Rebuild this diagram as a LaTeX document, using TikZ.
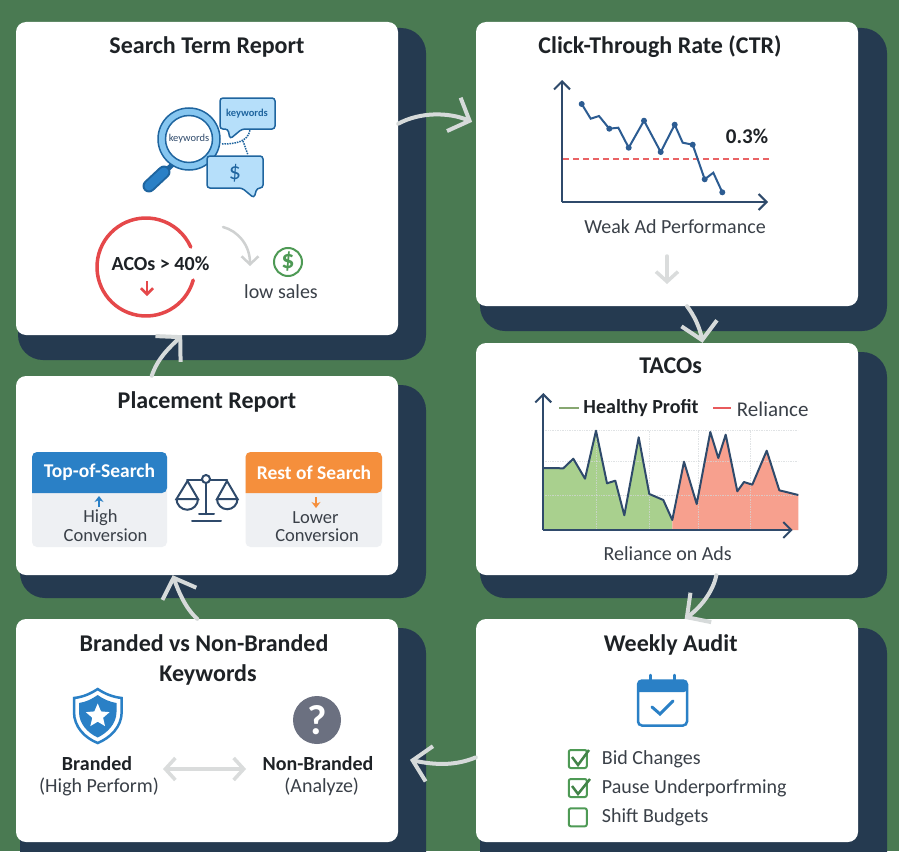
\documentclass[tikz,border=0pt]{standalone}
\usepackage{fontspec}
\setmainfont{Carlito}
\usetikzlibrary{arrows.meta,shapes.geometric}
\definecolor{bggreen}{HTML}{4A7A52}
\definecolor{navy}{HTML}{253A50}
\definecolor{flowgrey}{HTML}{D6DADA}
\definecolor{softgrey}{HTML}{DADCDC}
\definecolor{ink}{HTML}{1E2226}
\definecolor{bodytext}{HTML}{3A4048}
\definecolor{axisblue}{HTML}{2F4A6B}
\definecolor{lineblue}{HTML}{2C5C92}
\definecolor{iconblue}{HTML}{2A80C6}
\definecolor{darkblue}{HTML}{1F659F}
\definecolor{paleblue}{HTML}{B6DFFA}
\definecolor{ringblue}{HTML}{86C6F0}
\definecolor{redmark}{HTML}{E5484A}
\definecolor{greenmark}{HTML}{4E9A55}
\definecolor{orangebar}{HTML}{F58F3C}
\definecolor{panelgrey}{HTML}{EEF0F3}
\definecolor{areagreen}{HTML}{A9D08E}
\definecolor{areared}{HTML}{F7A08E}
\definecolor{gridgrey}{HTML}{D4D8DA}
\definecolor{querygrey}{HTML}{6B7080}
\tikzset{
    card/.style={fill=white, rounded corners=10pt, inner sep=0pt, minimum width=382pt},
    backing/.style={fill=navy, rounded corners=25pt},
    heading/.style={font=\fontsize{24}{30}\selectfont\bfseries, text=ink, inner sep=0pt, align=center},
    body/.style={font=\fontsize{20}{24}\selectfont, text=bodytext, inner sep=0pt, align=center},
    strong/.style={font=\fontsize{20}{24}\selectfont\bfseries, text=ink, inner sep=0pt, align=center},
    flow/.style={draw=flowgrey, line width=4pt, line cap=round, -{Straight Barb[length=17pt,width=36pt]}},
    minor/.style={draw=softgrey, line width=3.5pt, line cap=round, -{Straight Barb[length=10pt,width=22pt]}},
    axis/.style={draw=axisblue, line width=2pt, -{Straight Barb[length=8pt,width=16pt]}},
    bubble/.style={draw=darkblue, fill=paleblue, line width=1.5pt, rounded corners=3pt},
    dot/.style={circle, fill=lineblue, minimum size=6pt, inner sep=0pt},
    tick/.style={draw=greenmark, line width=2pt, rounded corners=2pt},
    panel/.style={font=\fontsize{18.5}{20}\selectfont, text=bodytext, inner sep=0pt},
}
\begin{document}
\begin{tikzpicture}[x=1pt, y=-1pt]
    \useasboundingbox (0,0) rectangle (899,851);
    \fill[bggreen] (0,0) rectangle (899,851);
    \clip (0,0) rectangle (899,851);

    \begin{scope}
        \path[backing] (18,28) rectangle (426,360);
        \path[backing] (480,28) rectangle (887,331);
        \path[backing] (480,352) rectangle (887,598);
        \path[backing] (20,385) rectangle (426,598);
        \path[backing] (20,628) rectangle (426,880);
        \path[backing] (480,628) rectangle (887,880);
    \end{scope}

    \begin{scope}[every node/.style={card}]
        \node[minimum height=313pt] (search) at (207,178.5) {};
        \node[minimum height=284pt] (ctr) at (667,164) {};
        \node[minimum height=232pt] (tacos) at (667,459) {};
        \node[minimum height=199pt] (placement) at (207,475.5) {};
        \node[minimum height=223pt] (branded) at (207,730.5) {};
        \node[minimum height=223pt] (audit) at (667,730.5) {};
    \end{scope}

    \draw[flow, shorten >=4pt] (search.16) .. controls (420,112) and (448,112) .. (ctr.168);
    \draw[flow] (ctr.-82) .. controls (694,315) and (700,328) .. (tacos.73);
    \draw[flow] (tacos.-67.5) .. controls (713,592) and (700,608) .. (audit.81);
    \draw[flow, shorten >=12pt] (audit.-172) .. controls (455,766) and (435,765) .. (branded.-8);
    \draw[flow] (branded.95) .. controls (185,608) and (178,590) .. (placement.-109);
    \draw[flow] (placement.119) .. controls (158,358) and (168,349) .. (search.-99);

    \begin{scope}[every node/.style={heading}]
        \node (searchtitle) at (207,46.5) {Search Term Report};
        \node (ctrtitle) at (660,46.5) {Click-Through Rate (CTR)};
        \node (tacostitle) at (670.7,366) {TACOs};
        \node (placementtitle) at (207,401.5) {Placement Report};
        \node (brandedtitle) at (204,659.5) {Branded vs Non-Branded\\\hspace*{8pt}Keywords};
        \node (audittitle) at (670.7,644.5) {Weekly Audit};
    \end{scope}

    \draw[line width=5pt, draw=darkblue, line cap=round] (160,176) -- (172,165);
    \draw[line width=13pt, draw=darkblue, line cap=round] (149,186) -- (164,172);
    \draw[line width=9pt, draw=iconblue, line cap=round] (149,186) -- (164,172);
    \filldraw[draw=darkblue, fill=ringblue, line width=1.5pt] (189,139) circle (31);
    \filldraw[draw=darkblue, fill=white, line width=1.5pt] (189,139) circle (23.5);
    \draw[bubble] (220,98) -- (275,98) -- (275,129) -- (242,129) -- (230,139) -- (228,129) -- (220,129) -- cycle;
    \draw[bubble] (207,156) -- (263,156) -- (263,188) -- (257,188) -- (254,198) -- (242,188) -- (207,188) -- cycle;
    \draw[darkblue, line width=1.5pt, densely dotted] (222,144) .. controls (235,144) and (248,142) .. (250,130);
    \draw[darkblue, line width=1.5pt, densely dotted] (243,141) -- (248,155);
    \node[font=\fontsize{10.5}{12}\selectfont, text=axisblue, inner sep=0pt] (lenstext) at (189,139) {keywords};
    \node[font=\fontsize{10.5}{12}\selectfont\bfseries, text=darkblue, inner sep=0pt] (bubbletext) at (247,114) {keywords};
    \node[font=\fontsize{24}{26}\selectfont, text=darkblue, inner sep=0pt] (bubbledollar) at (235,173) {\$};

    \draw[redmark, line width=3.5pt, line cap=round] (146,267) ++(15.5:49) arc[start angle=15.5, end angle=336, radius=49];
    \node[strong] (acos) at (160.5,264) {ACOs > 40\%};
    \draw[redmark, line width=2.5pt, -{Straight Barb[length=6pt,width=12pt]}] (147,281) -- (147,296);
    \draw[softgrey!95!black, line width=2.5pt, line cap=round, -{Straight Barb[length=8pt,width=17pt]}] (223,227) .. controls (238,231) and (250,245) .. (250,266);
    \node[circle, draw=greenmark, line width=2pt, minimum size=28pt, inner sep=0pt, text=greenmark, font=\fontsize{26}{28}\selectfont\bfseries] (lowdollar) at (288,262) {\$};
    \node[body] (lowsales) at (281,292) {low sales};

    \coordinate (ctrorigin) at (562,202);
    \coordinate (ctrtop) at (562,80);
    \coordinate (ctrright) at (768,202);
    \draw[axis] (ctrorigin) -- (ctrtop);
    \draw[axis] (ctrorigin) -- (ctrright);
    \draw[redmark!85, line width=1.3pt, dash pattern=on 6pt off 4pt] (563,159) -- (772,159);
    \draw[lineblue, line width=2pt] (581.7,104) -- (590.7,118.7) -- (599,116) -- (609.3,128.7) -- (618.3,127.7) -- (628.7,147.7) -- (644,120.7) -- (660.7,152) -- (674.7,124.7) -- (682.7,142.7) -- (692.7,144.7) -- (704.7,179.3) -- (713.3,172.7) -- (722.3,192.3);
    \begin{scope}[every node/.style={dot}]
        \node (p1) at (581.7,104) {};
        \node (p2) at (609.3,128.7) {};
        \node (p3) at (628.7,147.7) {};
        \node (p4) at (644,120.7) {};
        \node (p5) at (660.7,152) {};
        \node (p6) at (674.7,124.7) {};
        \node (p7) at (692.7,144.7) {};
        \node (p8) at (704.7,179.3) {};
        \node (p9) at (722.3,192.3) {};
    \end{scope}
    \node[strong, font=\fontsize{21}{24}\selectfont\bfseries] (ctrvalue) at (747,136) {0.3\%};
    \node[body] (ctrcaption) at (675,227) {Weak Ad Performance};
    \coordinate (ctrdowntop) at (667,256);
    \coordinate (ctrdownend) at (667,284);
    \draw[minor] (ctrdowntop) -- (ctrdownend);

    \fill[areagreen] (544,530) -- (544,468) -- (563.3,468.3) -- (573.3,458.7) -- (585,478.7) -- (596,430.7) -- (607,483.3) -- (615.3,480.7) -- (624.3,515.3) -- (638.7,437.3) -- (649.3,494) -- (663.3,500) -- (672.3,520) -- (672.3,530) -- cycle;
    \fill[areared] (672.3,530) -- (672.3,520) -- (684,461.7) -- (696.7,504) -- (710.3,432) -- (718.3,458) -- (725.7,434.7) -- (737.3,491.3) -- (744,482) -- (752.3,484.7) -- (766.7,450.7) -- (779.3,490.3) -- (798.3,495) -- (798.3,530) -- cycle;
    \begin{scope}[draw=gridgrey, densely dotted, line width=0.7pt, opacity=0.7]
        \draw (543,430.7) -- (798,430.7);
        \draw (543,461.7) -- (798,461.7);
        \draw (543,495) -- (798,495);
        \draw (596.7,430.7) -- (596.7,530);
        \draw (649,430.7) -- (649,530);
        \draw (698.3,430.7) -- (698.3,530);
        \draw (750,430.7) -- (750,530);
    \end{scope}
    \draw[axisblue, line width=2pt, line join=round] (544,468) -- (563.3,468.3) -- (573.3,458.7) -- (585,478.7) -- (596,430.7) -- (607,483.3) -- (615.3,480.7) -- (624.3,515.3) -- (638.7,437.3) -- (649.3,494) -- (663.3,500) -- (672.3,520) -- (684,461.7) -- (696.7,504) -- (710.3,432) -- (718.3,458) -- (725.7,434.7) -- (737.3,491.3) -- (744,482) -- (752.3,484.7) -- (766.7,450.7) -- (779.3,490.3) -- (798.3,495);
    \coordinate (tacosorigin) at (543.3,530);
    \coordinate (tacostop) at (543.3,393);
    \coordinate (tacosright) at (792.7,530);
    \draw[axis] (tacosorigin) -- (tacostop);
    \draw[axis] (tacosorigin) -- (tacosright);
    \draw[areagreen!80!black, line width=2pt] (559,407.7) -- (579,407.7);
    \draw[redmark!90, line width=2pt] (713,408) -- (731,408);
    \node[strong] (healthy) at (641,408) {Healthy Profit};
    \node[body, font=\fontsize{21}{24}\selectfont] (reliance) at (772.7,409) {Reliance};
    \node[body] (tacoscaption) at (667.7,553.7) {Reliance on Ads};

    \fill[panelgrey, rounded corners=5pt] (32,452) rectangle (167,547);
    \fill[panelgrey, rounded corners=5pt] (245.5,452) rectangle (382,547);
    \fill[iconblue, rounded corners=5pt] (32,493) -- (32,452) -- (167,452) -- (167,493) [sharp corners] -- cycle;
    \fill[orangebar, rounded corners=5pt] (245.5,493) -- (245.5,452) -- (382,452) -- (382,493) [sharp corners] -- cycle;
    \begin{scope}[every node/.style={strong, text=white, font=\fontsize{19.5}{24}\selectfont\bfseries}]
        \node (toplabel) at (99.5,472.5) {Top-of-Search};
        \node (restlabel) at (314,472.5) {Rest of Search};
    \end{scope}
    \begin{scope}[every node/.style={panel}]
        \node (highlabel) at (100.5,518) {High};
        \node (highsub) at (105.5,535.5) {Conversion};
        \node (lowerlabel) at (315.5,518) {Lower};
        \node (lowersub) at (317,535.5) {Conversion};
    \end{scope}
    \draw[iconblue, line width=2.5pt, -{Stealth[length=6pt,width=9pt]}] (99,507) -- (99,496);
    \draw[orangebar, line width=2.5pt, -{Stealth[length=6pt,width=9pt]}] (316,497) -- (316,508);

    \begin{scope}[draw=axisblue, line width=2pt, line cap=round]
        \draw (206,476) -- (206,514);
        \draw (199,514) -- (214,514);
        \draw (192,520.5) -- (221,520.5);
        \draw (187,480) -- (227,480);
        \draw (187.5,481) -- (176.5,499) -- (198,499) -- cycle;
        \draw (176.5,499) arc[start angle=180, end angle=0, radius=10.75];
        \draw (227,481) -- (217,499) -- (237.5,499) -- cycle;
        \draw (217,499) arc[start angle=180, end angle=0, radius=10.25];
        \filldraw[fill=white] (206,479) circle (4);
    \end{scope}

    \filldraw[fill=white, draw=iconblue, line width=2.5pt] (97.7,689) .. controls (105,694) and (113,697) .. (121.7,698) -- (121.7,712) .. controls (121.7,727) and (110,738) .. (97.7,743) .. controls (85,738) and (74,727) .. (74,712) -- (74,698) .. controls (83,697) and (90,694) .. (97.7,689) -- cycle;
    \fill[iconblue] (97.7,695) .. controls (103,699) and (110,702) .. (116.5,703) -- (116.5,712) .. controls (116.5,724) and (107,733) .. (97.7,737.5) .. controls (88,733) and (79,724) .. (79,712) -- (79,703) .. controls (86,702) and (92,699) .. (97.7,695) -- cycle;
    \node[star, star points=5, star point ratio=2.2, fill=white, minimum size=25pt, inner sep=0pt] (shieldstar) at (97.7,716) {};
    \node[circle, fill=querygrey, minimum size=48pt, inner sep=0pt, text=white, font=\fontsize{42}{44}\selectfont\bfseries] (question) at (317,720) {?};
    \node[strong] (brandedlabel) at (97,764) {Branded};
    \node[body] (brandedsub) at (99,787) {(High Perform)};
    \node[strong] (nonbrandedlabel) at (318,764) {Non-Branded};
    \node[body] (nonbrandedsub) at (321.7,787) {(Analyze)};
    \draw[softgrey, line width=3.5pt, line cap=round, {Straight Barb[length=10pt,width=22pt]}-{Straight Barb[length=10pt,width=22pt]}] (brandedsub.east) ++(4,-18) -- ++(83,0);

    \draw[iconblue, line width=2.5pt, line cap=round] (650.5,675) -- (650.5,682);
    \draw[iconblue, line width=2.5pt, line cap=round] (674.5,675) -- (674.5,682);
    \filldraw[fill=white, draw=iconblue, line width=2.5pt, rounded corners=4pt] (638,680.5) rectangle (687,725.5);
    \fill[iconblue, rounded corners=3pt] (638,692) -- (638,680.5) -- (687,680.5) -- (687,692) [sharp corners] -- cycle;
    \draw[iconblue, line width=3pt, line cap=round] (652,707) -- (660,714) -- (673,701);

    \begin{scope}[every node/.style={tick, minimum size=18pt, inner sep=0pt}]
        \node[draw] (bidbox) at (577.8,759) {};
        \node[draw] (pausebox) at (577.8,788) {};
        \node[draw] (shiftbox) at (577.8,817.3) {};
    \end{scope}
    \draw[greenmark!85!black, line width=2.5pt] (572,757) -- (578,765) -- (589,750);
    \draw[greenmark!85!black, line width=2.5pt] (572,786) -- (578,794) -- (590,779);
    \begin{scope}[every node/.style={body, anchor=west}]
        \node (bidlabel) at (601.7,759.5) {Bid Changes};
        \node (pauselabel) at (601.7,788.5) {Pause Underporfrming};
        \node (shiftlabel) at (601.7,817.5) {Shift Budgets};
    \end{scope}
\end{tikzpicture}
\end{document}
